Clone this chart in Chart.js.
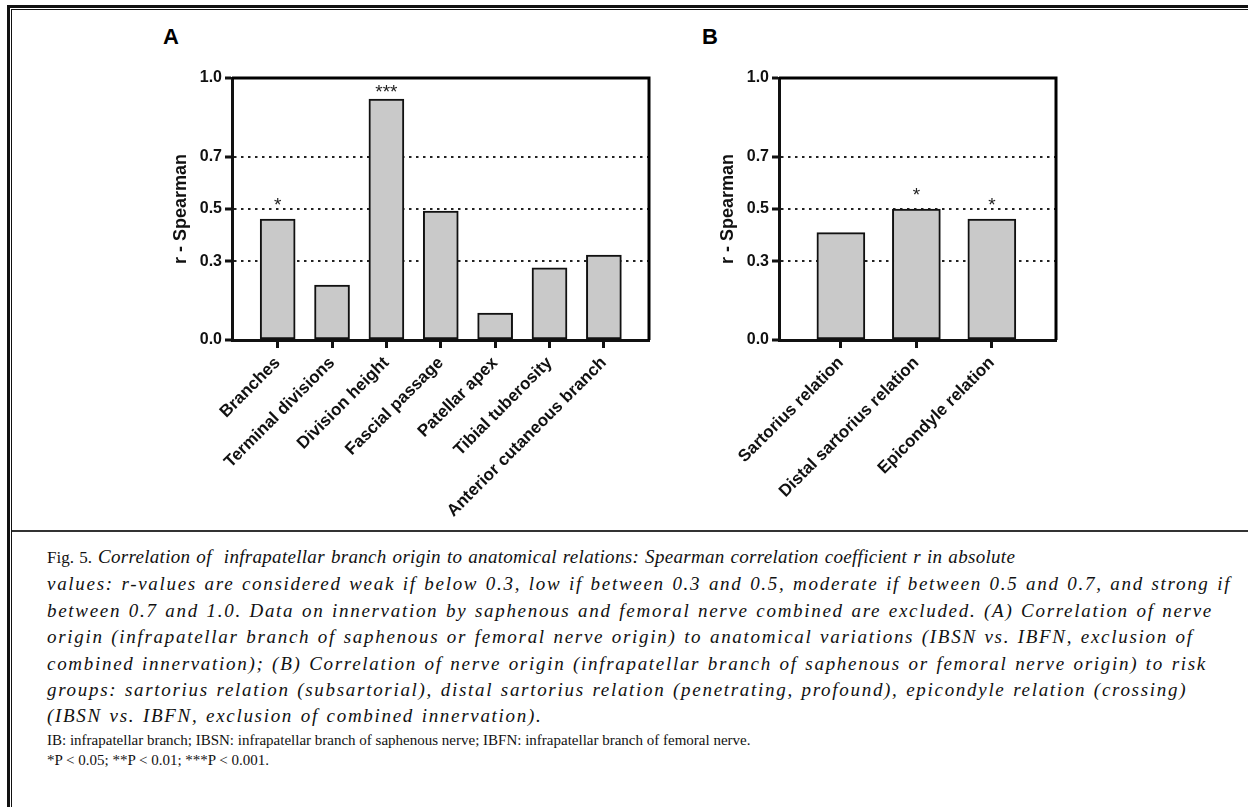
<!DOCTYPE html>
<html>
<head>
<meta charset="utf-8">
<script src="https://cdn.jsdelivr.net/npm/chart.js@4/dist/chart.umd.min.js"></script>
<style>
  body { margin: 0; background: #fff; width: 1248px; height: 807px; position: relative; overflow: hidden; }
  .line { position: absolute; background: #111; }
  .panel { position: absolute; font: bold 22px "Liberation Sans", Arial, sans-serif; line-height: 1; }
  canvas { position: absolute; }
  #caption { position: absolute; left: 47px; top: 544px; font: 19px "Liberation Serif", serif; color: #111; white-space: nowrap; }
  #caption .it { font-style: italic; line-height: 26.4px; letter-spacing: 1.7px; word-spacing: 1.2px; }
  #caption .first { letter-spacing: 0.3px; word-spacing: 1px; }
  #caption .plain { line-height: 20px; font-size: 15px; }
</style>
</head>
<body>
<!-- outer frame: thick + thin line on left and top -->
<div class="line" style="left:7px;top:5px;width:3px;height:802px"></div>
<div class="line" style="left:11px;top:9px;width:1px;height:798px"></div>
<div class="line" style="left:7px;top:5px;width:1241px;height:3px"></div>
<div class="line" style="left:11px;top:9px;width:1237px;height:1px"></div>
<div class="line" style="left:12px;top:530px;width:1236px;height:2px;background:#333"></div>

<div class="panel" style="left:163px;top:26px">A</div>
<div class="panel" style="left:702px;top:26px">B</div>

<canvas id="chartA" width="510" height="470" style="left:160px;top:60px"></canvas>
<canvas id="chartB" width="370" height="470" style="left:707px;top:60px"></canvas>

<div id="caption">
  <div class="it first"><span style="font-style:normal;letter-spacing:0;font-size:17px">Fig. 5.</span> Correlation of&nbsp; infrapatellar branch origin to anatomical relations: Spearman correlation coefficient r in absolute</div>
  <div class="it">values: r-values are considered weak if below 0.3, low if between 0.3 and 0.5, moderate if between 0.5 and 0.7, and strong if</div>
  <div class="it">between 0.7 and 1.0. Data on innervation by saphenous and femoral nerve combined are excluded. (A) Correlation of nerve</div>
  <div class="it">origin (infrapatellar branch of saphenous or femoral nerve origin) to anatomical variations (IBSN vs. IBFN, exclusion of</div>
  <div class="it">combined innervation); (B) Correlation of nerve origin (infrapatellar branch of saphenous or femoral nerve origin) to risk</div>
  <div class="it">groups: sartorius relation (subsartorial), distal sartorius relation (penetrating, profound), epicondyle relation (crossing)</div>
  <div class="it">(IBSN vs. IBFN, exclusion of combined innervation).</div>
  <div class="plain">IB: infrapatellar branch; IBSN: infrapatellar branch of saphenous nerve; IBFN: infrapatellar branch of femoral nerve.</div>
  <div class="plain">*P &lt; 0.05; **P &lt; 0.01; ***P &lt; 0.001.</div>
</div>

<script>
// panel A: anatomical variations
const labelsA = ["Branches", "Terminal divisions", "Division height", "Fascial passage", "Patellar apex", "Tibial tuberosity", "Anterior cutaneous branch"];
const valuesA = [0.462, 0.21, 0.92, 0.492, 0.103, 0.275, 0.324];
const starsA = ["*", "", "***", "", "", "", ""];

// panel B: risk groups
const labelsB = ["Sartorius relation", "Distal sartorius relation", "Epicondyle relation"];
const valuesB = [0.41, 0.5, 0.462];
const starsB = ["", "*", "*"];

// y ticks shown on both panels
const yTicks = [0.0, 0.3, 0.5, 0.7, 1.0];

const sans = "'Liberation Sans', Arial, sans-serif";

// box round the plot + significance stars above the bars
const boxAndStars = {
    id: "boxAndStars",
    afterDatasetsDraw(chart, args, opts) {
        const ctx = chart.ctx;
        const a = chart.chartArea;
        ctx.save();
        ctx.strokeStyle = "#000";
        ctx.lineWidth = 3;
        ctx.beginPath();
        ctx.moveTo(a.left, a.top);
        ctx.lineTo(a.right, a.top);
        ctx.lineTo(a.right, a.bottom);
        ctx.stroke();

        ctx.fillStyle = "#222";
        ctx.font = "19px " + sans;
        ctx.textAlign = "center";
        ctx.textBaseline = "middle";
        chart.getDatasetMeta(0).data.forEach((bar, i) => {
            const s = opts.stars[i];
            if (!s) return;
            const y = Math.max(bar.y - 13, a.top + 15);
            ctx.fillText(s, bar.x, y);
        });
        ctx.restore();
    }
};

function makeChart(id, labels, values, stars, barWidth, xMin, xMax) {
    new Chart(document.getElementById(id), {
        type: "bar",
        data: {
            datasets: [{
                data: values.map((v, i) => ({ x: i, y: v })),
                backgroundColor: "#c9c9c9",
                borderColor: "#111",
                borderWidth: 2,
                borderSkipped: false,
                barThickness: barWidth,
            }],
        },
        plugins: [boxAndStars],
        options: {
            responsive: false,
            animation: false,
            layout: { padding: { top: 18, right: 21, left: 0, bottom: 0 } },
            plugins: {
                legend: { display: false },
                tooltip: { enabled: false },
                boxAndStars: { stars: stars },
            },
            scales: {
                x: {
                    type: "linear",
                    offset: false,
                    min: xMin,
                    max: xMax,
                    afterBuildTicks: (scale) => { scale.ticks = labels.map((_, i) => ({ value: i })); },
                    afterFit: (scale) => { scale.height = 190; },
                    ticks: {
                        autoSkip: false,
                        minRotation: 45,
                        maxRotation: 45,
                        padding: 5,
                        color: "#111",
                        font: { family: sans, size: 17, weight: "bold" },
                        callback: (v) => labels[v],
                    },
                    grid: {
                        offset: false,
                        drawOnChartArea: false,
                        tickLength: 8,
                        tickWidth: 3,
                        tickColor: "#111",
                    },
                    border: { display: true, color: "#111", width: 3 },
                },
                y: {
                    min: 0,
                    max: 1,
                    afterBuildTicks: (scale) => { scale.ticks = yTicks.map((v) => ({ value: v })); },
                    afterFit: (scale) => { scale.width = 72; },
                    ticks: {
                        padding: 3,
                        color: "#111",
                        font: { family: sans, size: 16, weight: "bold" },
                        callback: (v) => v.toFixed(1),
                    },
                    grid: {
                        color: (c) => (c.tick && (c.tick.value === 0 || c.tick.value === 1)) ? "rgba(0,0,0,0)" : "#222",
                        lineWidth: 2,
                        tickLength: 7,
                        tickWidth: 3,
                        tickColor: "#111",
                        tickBorderDash: [],
                    },
                    border: { display: true, color: "#111", width: 3, dash: [2.5, 4.5] },
                    title: {
                        display: true,
                        text: "r - Spearman",
                        color: "#111",
                        padding: 10,
                        font: { family: sans, size: 18, weight: "bold" },
                    },
                },
            },
        },
    });
}

makeChart("chartA", labelsA, valuesA, starsA, 35, -0.84, 6.83);
makeChart("chartB", labelsB, valuesB, starsB, 48, -0.82, 2.85);
</script>
</body>
</html>
